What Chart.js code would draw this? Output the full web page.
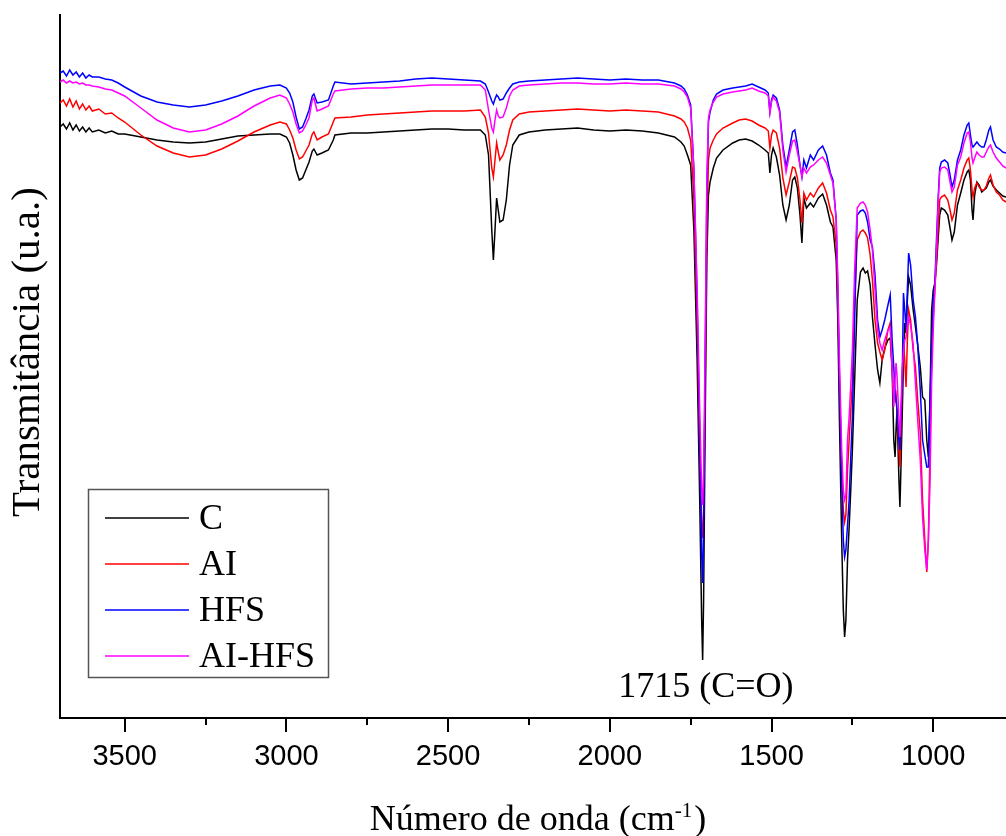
<!DOCTYPE html>
<html>
<head>
<meta charset="utf-8">
<script src="https://cdn.jsdelivr.net/npm/chart.js@4.4.1/dist/chart.umd.min.js"></script>
<style>
  html, body { margin: 0; padding: 0; background: #fff; }
  #wrap { width: 1006px; height: 836px; position: relative; }
</style>
</head>
<body>
<div id="wrap"><canvas id="ftir"></canvas></div>
<script>
// wavenumbers in cm-1 (shared by every spectrum)
const wavenumbers = [
  3700, 3690, 3680, 3670, 3660, 3650, 3640, 3630, 3620, 3610,
  3600, 3580, 3560, 3540, 3520, 3500, 3450, 3400, 3350, 3300,
  3250, 3200, 3150, 3100, 3050, 3020, 3000, 2990, 2980, 2970,
  2960, 2950, 2940, 2930, 2920, 2915, 2905, 2890, 2870, 2855,
  2850, 2800, 2750, 2700, 2650, 2600, 2550, 2500, 2450, 2400,
  2385, 2375, 2365, 2360, 2355, 2350, 2345, 2340, 2330, 2320,
  2310, 2300, 2280, 2250, 2200, 2150, 2100, 2050, 2000, 1950,
  1900, 1850, 1800, 1780, 1770, 1760, 1750, 1740, 1730, 1722,
  1716, 1713, 1710, 1705, 1700, 1695, 1690, 1680, 1670, 1650,
  1620, 1600, 1580, 1560, 1540, 1520, 1510, 1505, 1500, 1495,
  1485, 1475, 1465, 1455, 1445, 1435, 1428, 1420, 1412, 1406,
  1400, 1392, 1380, 1370, 1355, 1342, 1330, 1318, 1310, 1300,
  1295, 1290, 1283, 1278, 1274, 1270, 1265, 1260, 1255, 1250,
  1243, 1235, 1225, 1217, 1210, 1203, 1195, 1188, 1180, 1172,
  1165, 1158, 1150, 1140, 1133, 1127, 1122, 1118, 1115, 1112,
  1106, 1103, 1100, 1096, 1092, 1088, 1084, 1080, 1076, 1070,
  1062, 1055, 1048, 1040, 1033, 1026, 1020, 1015, 1010, 1005,
  1000, 995, 990, 985, 980, 975, 965, 955, 948, 942,
  935, 925, 915, 905, 895, 890, 885, 880, 877, 872,
  865, 858, 850, 843, 836, 828, 823, 815, 805, 795,
  785, 775
];

// transmittance, arbitrary units
const seriesC = [
  591, 594, 589, 595, 588, 593, 587, 591, 586, 590,
  586, 588, 585, 587, 584, 584, 581, 578, 576, 575,
  576, 579, 582, 583, 584, 584, 581, 575, 563, 548,
  538, 540, 548, 556, 567, 569, 563, 565, 568, 578,
  583, 585, 585, 586, 587, 588, 589, 589, 588, 588,
  583, 563, 488, 458, 488, 520, 508, 496, 498, 518,
  553, 573, 583, 586, 588, 589, 590, 588, 587, 588,
  587, 585, 581, 576, 572, 563, 553, 488, 358, 218,
  98, 58, 118, 298, 458, 523, 536, 550, 560, 568,
  575, 578, 579, 577, 573, 568, 565, 545, 563, 570,
  561, 543, 513, 498, 513, 538, 541, 530, 503, 475,
  520, 510, 515, 511, 520, 524, 513, 496, 491, 458,
  398, 298, 178, 108, 81, 98, 158, 191, 228, 268,
  338, 418, 446, 450, 445, 447, 433, 401, 373, 348,
  335, 358, 370, 378, 380, 348, 278, 261, 288, 308,
  238, 211, 248, 301, 358, 395, 385, 418, 441, 433,
  408, 391, 373, 351, 321, 318, 278, 261, 318, 408,
  428, 435, 453, 478, 503, 510, 508, 503, 490, 478,
  486, 513, 525, 538, 546, 548, 538, 508, 498, 523,
  536, 533, 526, 528, 530, 536, 538, 532, 528, 525,
  522, 521
];

const seriesAI = [
  615, 618, 612, 619, 611, 617, 609, 614, 608, 612,
  607, 609, 604, 605, 600, 596, 583, 572, 565, 561,
  563, 569, 577, 586, 593, 596, 594, 588, 580, 568,
  559, 561, 567, 573, 584, 586, 578, 581, 584, 596,
  600, 601, 603, 604, 605, 606, 607, 607, 607, 608,
  601, 585, 550, 541, 558, 575, 566, 558, 563, 573,
  588, 598, 604, 606, 607, 608, 609, 608, 607, 608,
  607, 606, 602, 599, 596, 590, 578, 518, 398, 268,
  193, 180, 208, 338, 488, 558, 570, 578, 584, 590,
  595, 598, 599, 597, 593, 590, 587, 570, 583, 588,
  585, 570, 540, 523, 536, 551, 550, 540, 518, 495,
  525, 518, 525, 521, 530, 535, 525, 508, 501, 473,
  418, 338, 248, 208, 196, 203, 248, 278, 308, 335,
  418, 478, 486, 488, 485, 480, 463, 438, 398, 375,
  366, 358, 368, 388, 395, 348, 323, 318, 323, 308,
  268, 251, 288, 338, 375, 358, 331, 378, 408, 398,
  368, 351, 318, 285, 218, 178, 146, 178, 268, 358,
  401, 428, 458, 488, 518, 521, 523, 518, 508, 498,
  505, 528, 538, 550, 558, 560, 548, 528, 521, 530,
  535, 531, 528, 528, 532, 540, 543, 533, 526, 523,
  518, 516
];

const seriesHFS = [
  645, 647, 642, 648, 643, 646, 641, 645, 640, 643,
  641, 641, 639, 638, 635, 631, 622, 616, 613, 611,
  613, 617, 622, 628, 632, 633, 630, 625, 616, 601,
  589, 591, 599, 608, 622, 624, 615, 616, 618, 632,
  636, 634, 635, 636, 637, 639, 640, 639, 638, 637,
  634, 626, 617, 614, 619, 623, 621, 618, 619, 625,
  630, 634, 636, 637, 638, 639, 640, 639, 638, 639,
  638, 638, 635, 632, 629, 623, 613, 548, 418, 278,
  163, 135, 188, 358, 528, 596, 606, 618, 624, 628,
  630, 631, 632, 634, 631, 628, 625, 606, 618, 623,
  620, 608, 573, 551, 568, 586, 588, 573, 553, 541,
  558, 550, 563, 558, 568, 572, 563, 545, 538, 498,
  428, 338, 238, 178, 161, 168, 193, 218, 261, 301,
  398, 503, 507, 508, 505, 496, 478, 471, 443, 398,
  381, 388, 398, 413, 423, 378, 351, 328, 318, 308,
  278, 268, 298, 335, 425, 408, 388, 428, 465, 453,
  418, 401, 373, 328, 278, 263, 251, 251, 318, 368,
  418, 435, 478, 518, 550, 556, 558, 555, 543, 531,
  538, 558, 568, 583, 593, 595, 583, 573, 571, 573,
  576, 573, 571, 571, 578, 588, 591, 578, 571, 569,
  566, 565
];

const seriesAIHFS = [
  636, 638, 635, 637, 635, 636, 634, 635, 633, 633,
  632, 631, 629, 628, 625, 622, 610, 598, 590, 586,
  588, 594, 602, 612, 620, 623, 620, 614, 606, 594,
  585, 587, 593, 600, 618, 620, 607, 609, 612, 624,
  627, 629, 630, 630, 631, 632, 633, 633, 633, 633,
  628, 608, 590, 586, 598, 608, 602, 600, 601, 610,
  622, 628, 632, 633, 634, 635, 635, 634, 634, 635,
  634, 634, 632, 629, 626, 621, 610, 548, 428, 308,
  228, 213, 243, 378, 538, 600, 608, 616, 621, 624,
  626, 627, 628, 630, 627, 625, 622, 605, 616, 621,
  617, 606, 568, 546, 563, 577, 578, 566, 553, 541,
  550, 545, 551, 553, 558, 561, 555, 543, 535, 498,
  438, 358, 268, 228, 218, 223, 278, 301, 333, 368,
  448, 510, 515, 516, 513, 506, 488, 468, 428, 388,
  375, 368, 378, 388, 391, 348, 311, 338, 355, 343,
  298, 281, 308, 348, 368, 378, 381, 393, 401, 393,
  373, 335, 298, 258, 201, 168, 148, 178, 235, 335,
  388, 428, 468, 513, 546, 550, 551, 548, 536, 526,
  531, 553, 561, 575, 585, 586, 576, 560, 555, 560,
  566, 563, 561, 561, 566, 571, 573, 566, 560, 556,
  552, 550
];

const seriesNames = ['C', 'AI', 'HFS', 'AI-HFS'];
const seriesColors = ['#000000', '#ff0000', '#0000ff', '#ff00ff'];
const majorTicks = [3500, 3000, 2500, 2000, 1500, 1000];
const minorTicks = [3250, 2750, 2250, 1750, 1250];

const SERIF = "'Liberation Serif', 'Times New Roman', serif";
const SANS = "'Liberation Sans', Arial, sans-serif";

function toPoints(values) {
  return wavenumbers.map((w, i) => ({ x: w, y: values[i] }));
}

const allSeries = [seriesC, seriesAI, seriesHFS, seriesAIHFS];

const datasets = allSeries.map((values, i) => ({
  label: seriesNames[i],
  data: toPoints(values),
  borderColor: seriesColors[i],
  borderWidth: 1.5,
  pointRadius: 0,
  tension: 0,
  fill: false,
  order: allSeries.length - 1 - i,
}));

// ticks, titles, legend box and the band label
const decorations = {
  id: 'decorations',
  afterDraw(chart) {
    const { ctx, chartArea } = chart;
    const xScale = chart.scales.x;
    const yScale = chart.scales.y;
    ctx.save();

    ctx.strokeStyle = '#000';
    ctx.lineWidth = 2;
    majorTicks.forEach((v) => {
      const px = Math.round(xScale.getPixelForValue(v));
      ctx.beginPath();
      ctx.moveTo(px, chartArea.bottom);
      ctx.lineTo(px, chartArea.bottom + 14);
      ctx.stroke();
    });
    minorTicks.forEach((v) => {
      const px = Math.round(xScale.getPixelForValue(v));
      ctx.beginPath();
      ctx.moveTo(px, chartArea.bottom);
      ctx.lineTo(px, chartArea.bottom + 7);
      ctx.stroke();
    });

    ctx.fillStyle = '#000';

    // y title
    ctx.save();
    ctx.translate(28, 352);
    ctx.rotate(-Math.PI / 2);
    ctx.font = `41px ${SERIF}`;
    ctx.textAlign = 'center';
    ctx.textBaseline = 'middle';
    ctx.fillText('Transmitância (u.a.)', 0, 0);
    ctx.restore();

    // x title with superscript
    const main = 'Número de onda (cm';
    const sup = '-1';
    const close = ')';
    ctx.font = `36px ${SERIF}`;
    const wMain = ctx.measureText(main).width;
    const wClose = ctx.measureText(close).width;
    ctx.font = `21px ${SERIF}`;
    const wSup = ctx.measureText(sup).width;
    let tx = 538 - (wMain + wSup + wClose + 2) / 2;
    ctx.textAlign = 'left';
    ctx.textBaseline = 'alphabetic';
    ctx.font = `36px ${SERIF}`;
    ctx.fillText(main, tx, 830);
    tx += wMain;
    ctx.font = `21px ${SERIF}`;
    ctx.fillText(sup, tx, 817);
    tx += wSup + 2;
    ctx.font = `36px ${SERIF}`;
    ctx.fillText(close, tx, 830);

    // band label
    ctx.textAlign = 'center';
    ctx.textBaseline = 'middle';
    ctx.fillText('1715 (C=O)', xScale.getPixelForValue(1703), yScale.getPixelForValue(30));

    // legend
    ctx.strokeStyle = '#555';
    ctx.lineWidth = 1.5;
    ctx.strokeRect(88.5, 489.5, 240, 188);
    chart.data.datasets.forEach((ds, i) => {
      const rowY = 518 + i * 46;
      ctx.strokeStyle = ds.borderColor;
      ctx.lineWidth = 1.5;
      ctx.beginPath();
      ctx.moveTo(105, rowY);
      ctx.lineTo(189, rowY);
      ctx.stroke();
      ctx.fillStyle = '#000';
      ctx.textAlign = 'left';
      ctx.textBaseline = 'middle';
      ctx.font = `36px ${SERIF}`;
      ctx.fillText(ds.label, 199, rowY + 2);
    });

    ctx.restore();
  },
};

new Chart(document.getElementById('ftir'), {
  type: 'line',
  data: { datasets },
  options: {
    responsive: true,
    maintainAspectRatio: false,
    animation: false,
    layout: { padding: { top: 15, right: 0, bottom: 0, left: 0 } },
    plugins: {
      legend: { display: false },
      tooltip: { enabled: false },
    },
    scales: {
      x: {
        type: 'linear',
        reverse: true,
        min: 775,
        max: 3700,
        afterBuildTicks: (scale) => {
          scale.ticks = majorTicks.map((v) => ({ value: v }));
        },
        afterFit: (scale) => {
          scale.height = 118;
        },
        grid: { display: true, drawOnChartArea: false, drawTicks: true, tickLength: 14, tickColor: 'rgba(0,0,0,0)' },
        border: { display: true, color: '#000', width: 2 },
        ticks: {
          autoSkip: false,
          maxRotation: 0,
          padding: 8,
          color: '#000',
          font: { family: SANS, size: 29 },
          callback: (v) => String(v),
        },
      },
      y: {
        min: 0,
        max: 703,
        afterFit: (scale) => {
          scale.width = 60;
        },
        grid: { display: false },
        border: { display: true, color: '#000', width: 2 },
        ticks: { display: false },
      },
    },
  },
  plugins: [decorations],
});
</script>
</body>
</html>
